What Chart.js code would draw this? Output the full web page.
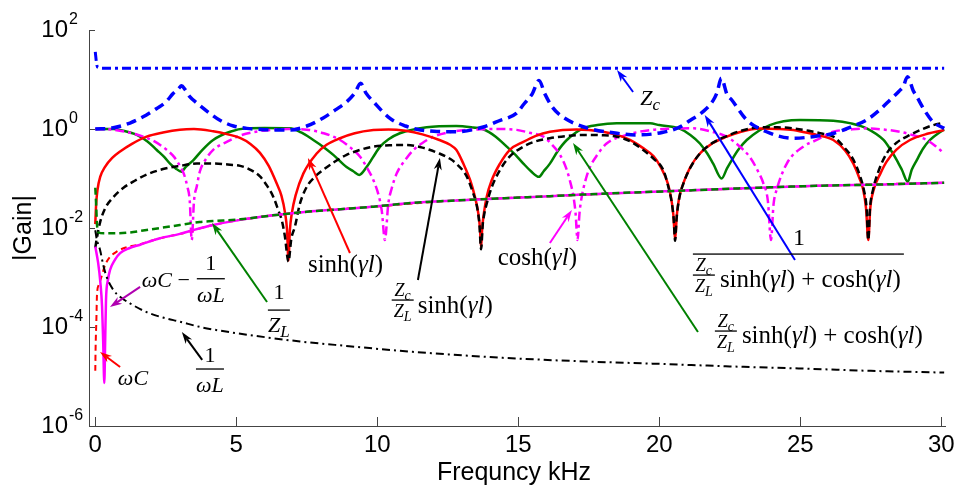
<!DOCTYPE html>
<html>
<head>
<meta charset="utf-8">
<script src="https://cdn.jsdelivr.net/npm/chart.js@4.4.0/dist/chart.umd.min.js"></script>
<style>
  html, body { margin: 0; padding: 0; background: #fff; }
</style>
</head>
<body>
<canvas id="gain" width="963" height="487"></canvas>
<script>
// frequency (kHz) / |gain| pairs for each transfer term
const zcPts = [[0, 36], [0.02, 28], [0.05, 20], [0.1, 17.5], [0.3, 16.8], [5, 16.8], [10, 16.8], [15, 16.8], [20, 16.8], [25, 16.8], [30.1, 16.8]];

const invPts = [[0, 1.0], [0.6, 1.05], [1.23, 1.32], [1.8, 1.9], [2.18, 2.6], [2.5, 3.5], [2.76, 5.2], [2.95, 6.5], [3.06, 7.5], [3.18, 6.3],
  [3.35, 4.5], [3.6, 3.35], [4.0, 2.2], [4.42, 1.5], [4.9, 1.15], [5.37, 1.03], [6.0, 0.97], [6.9, 0.95], [7.5, 1.15], [8.08, 1.67],
  [8.5, 2.4], [8.92, 3.57], [9.2, 5.3], [9.41, 8.4], [9.6, 5.3], [9.86, 3.57], [10.45, 1.64], [11.0, 1.15], [11.4, 0.99], [12.0, 0.9],
  [12.8, 0.88], [13.76, 1.1], [14.3, 1.45], [14.94, 2.1], [15.2, 3.2], [15.5, 5.2], [15.73, 9.5], [15.95, 5.0], [16.2, 2.8], [16.48, 1.92],
  [17.3, 1.11], [18.5, 0.82], [19.2, 0.76], [20.1, 0.85], [20.7, 1.08], [21.1, 1.5], [21.55, 2.24], [21.9, 3.7], [22.05, 5.5], [22.2, 10.6],
  [22.4, 5.0], [22.57, 3.85], [23.1, 1.52], [23.8, 0.88], [24.75, 0.65], [25.6, 0.72], [26.2, 0.82], [26.8, 1.1], [27.35, 1.52], [27.8, 2.4],
  [28.18, 3.85], [28.5, 5.8], [28.65, 7.2], [28.8, 11.4], [29.0, 6.0], [29.13, 4.5], [29.4, 2.4], [29.7, 1.4], [30.1, 1.03]];

const sinhPts = [[0, 0.012], [0.03, 0.03], [0.08, 0.06], [0.18, 0.11], [0.34, 0.17], [0.6, 0.26], [0.88, 0.35], [1.3, 0.5], [1.82, 0.7], [2.4, 0.85],
  [3.0, 0.97], [3.5, 1.0], [4.18, 0.9], [4.7, 0.78], [5.13, 0.66], [5.5, 0.5], [5.84, 0.33], [6.15, 0.18], [6.43, 0.08], [6.6, 0.045],
  [6.73, 0.02], [6.8, 0.009], [6.85, 0.0022], [6.9, 0.009], [6.97, 0.02], [7.1, 0.045], [7.38, 0.127], [7.85, 0.32], [8.2, 0.48], [8.68, 0.65],
  [9.2, 0.82], [9.86, 0.95], [10.4, 0.98], [11.0, 0.92], [11.6, 0.78], [12.2, 0.6], [12.58, 0.48], [12.8, 0.38], [13.05, 0.2], [13.3, 0.09],
  [13.46, 0.043], [13.58, 0.02], [13.64, 0.01], [13.68, 0.004], [13.72, 0.01], [13.78, 0.02], [13.88, 0.043], [14.05, 0.09], [14.35, 0.2], [14.7, 0.38],
  [15.18, 0.55], [15.6, 0.72], [16.12, 0.88], [17.07, 0.98], [18.0, 0.88], [18.5, 0.76], [18.96, 0.6], [19.4, 0.42], [19.8, 0.28], [20.05, 0.17],
  [20.3, 0.08], [20.42, 0.04], [20.5, 0.018], [20.56, 0.0057], [20.62, 0.018], [20.7, 0.04], [20.85, 0.08], [21.1, 0.17], [21.44, 0.32], [21.9, 0.52],
  [22.39, 0.7], [22.9, 0.88], [23.57, 1.02], [24.2, 1.0], [24.75, 0.95], [25.1, 0.87], [25.58, 0.76], [26.17, 0.6], [26.6, 0.36], [26.88, 0.2],
  [27.1, 0.1], [27.23, 0.059], [27.33, 0.025], [27.41, 0.0057], [27.48, 0.025], [27.6, 0.059], [27.85, 0.13], [28.06, 0.22], [28.4, 0.38], [28.89, 0.6],
  [29.5, 0.8], [30.1, 0.95]];

const zsPts = [[0, 0.004], [0.05, 0.006], [0.17, 0.013], [0.35, 0.025], [0.64, 0.042], [1.0, 0.065], [1.4, 0.09], [1.82, 0.12], [2.4, 0.155], [3.0, 0.18],
  [3.6, 0.2], [4.18, 0.2], [4.78, 0.19], [5.14, 0.18], [5.5, 0.15], [5.84, 0.11], [6.1, 0.07], [6.31, 0.043], [6.5, 0.022], [6.61, 0.0145],
  [6.72, 0.007], [6.85, 0.0021], [6.95, 0.006], [7.08, 0.0107], [7.25, 0.03], [7.5, 0.068], [7.8, 0.11], [8.08, 0.149], [8.5, 0.22], [8.91, 0.3],
  [9.4, 0.38], [9.86, 0.44], [10.5, 0.47], [11.04, 0.475], [11.6, 0.42], [12.2, 0.32], [12.58, 0.25], [12.8, 0.2], [13.17, 0.11], [13.4, 0.05],
  [13.52, 0.03], [13.62, 0.012], [13.68, 0.0037], [13.74, 0.012], [13.8, 0.02], [13.88, 0.031], [14.05, 0.065], [14.35, 0.149], [14.7, 0.28], [15.18, 0.44],
  [15.6, 0.56], [16.12, 0.65], [16.7, 0.72], [17.3, 0.76], [17.9, 0.75], [18.5, 0.7], [19.0, 0.55], [19.43, 0.376], [19.8, 0.25], [20.14, 0.149],
  [20.3, 0.075], [20.45, 0.03], [20.51, 0.015], [20.56, 0.0055], [20.61, 0.015], [20.7, 0.038], [20.85, 0.078], [21.1, 0.165], [21.44, 0.32], [21.9, 0.53],
  [22.39, 0.72], [22.9, 0.92], [23.57, 1.08], [24.2, 1.08], [24.75, 1.03], [25.3, 0.92], [25.8, 0.8], [26.17, 0.7], [26.6, 0.4], [26.88, 0.24],
  [27.1, 0.12], [27.25, 0.06], [27.35, 0.025], [27.41, 0.0057], [27.47, 0.025], [27.58, 0.06], [27.75, 0.13], [28.06, 0.32], [28.4, 0.52], [28.89, 0.76],
  [29.3, 0.98], [29.72, 1.2], [30.1, 1.34]];

const coshPts = [[0, 1.0], [0.6, 0.97], [1.2, 0.85], [1.7, 0.7], [2.1, 0.56], [2.53, 0.38], [2.8, 0.27], [3.0, 0.18], [3.15, 0.12], [3.26, 0.07],
  [3.35, 0.035], [3.42, 0.0057], [3.5, 0.035], [3.6, 0.07], [3.71, 0.14], [3.95, 0.26], [4.18, 0.38], [4.66, 0.55], [5.14, 0.74], [5.8, 0.9],
  [6.31, 0.97], [6.85, 1.0], [7.5, 0.97], [8.1, 0.82], [8.68, 0.6], [9.05, 0.42], [9.39, 0.275], [9.65, 0.16], [9.86, 0.093], [10.05, 0.045],
  [10.16, 0.022], [10.27, 0.0057], [10.39, 0.031], [10.5, 0.06], [10.69, 0.127], [11.0, 0.24], [11.28, 0.376], [11.6, 0.52], [11.99, 0.7], [12.6, 0.87],
  [13.2, 0.96], [13.76, 0.99], [14.3, 1.0], [14.94, 0.96], [15.4, 0.84], [15.89, 0.7], [16.2, 0.48], [16.48, 0.3], [16.7, 0.16], [16.83, 0.09],
  [16.95, 0.045], [17.03, 0.02], [17.1, 0.0057], [17.17, 0.02], [17.25, 0.043], [17.4, 0.1], [17.54, 0.17], [17.8, 0.3], [18.13, 0.51], [18.84, 0.76],
  [19.67, 0.95], [20.5, 1.02], [21.2, 1.03], [21.8, 0.9], [22.39, 0.7], [22.8, 0.47], [23.2, 0.275], [23.5, 0.14], [23.69, 0.08], [23.85, 0.035],
  [23.96, 0.0057], [24.05, 0.03], [24.16, 0.059], [24.52, 0.2], [25.1, 0.44], [25.58, 0.6], [26.17, 0.88], [26.8, 0.98], [27.35, 1.03], [27.9, 0.98],
  [28.53, 0.88], [29.0, 0.75], [29.48, 0.6], [29.8, 0.45], [30.1, 0.32]];

const sumPts = [[0, 1.0], [0.64, 1.0], [1.0, 0.92], [1.47, 0.76], [1.85, 0.56], [2.18, 0.376], [2.45, 0.27], [2.65, 0.2], [2.85, 0.16], [3.06, 0.137],
  [3.2, 0.17], [3.48, 0.236], [3.8, 0.38], [4.18, 0.6], [4.78, 0.88], [5.37, 1.03], [6.0, 1.05], [6.9, 1.03], [7.3, 0.85], [7.73, 0.6],
  [8.1, 0.43], [8.44, 0.3], [8.91, 0.17], [9.15, 0.14], [9.36, 0.118], [9.62, 0.17], [9.85, 0.27], [10.1, 0.44], [10.4, 0.62], [10.8, 0.82],
  [11.75, 1.08], [12.8, 1.15], [13.4, 1.07], [13.76, 0.99], [14.2, 0.7], [14.59, 0.44], [14.9, 0.3], [15.18, 0.2], [15.45, 0.14], [15.73, 0.108],
  [15.9, 0.14], [16.12, 0.2], [16.4, 0.36], [16.72, 0.6], [17.3, 1.03], [17.8, 1.2], [18.49, 1.3], [19.67, 1.3], [20.0, 1.2], [20.7, 1.03],
  [21.1, 0.76], [21.44, 0.51], [21.7, 0.32], [21.91, 0.2], [22.21, 0.1], [22.4, 0.16], [22.57, 0.236], [22.8, 0.38], [23.1, 0.6], [23.92, 1.2],
  [24.99, 1.52], [26.17, 1.47], [26.8, 1.3], [27.35, 1.03], [27.95, 0.6], [28.2, 0.38], [28.42, 0.236], [28.6, 0.15], [28.81, 0.086], [28.95, 0.15],
  [29.13, 0.236], [29.35, 0.4], [29.6, 0.6], [30.1, 0.99]];

const yLPts = [[0, 0.065], [0.03, 0.03], [0.06, 0.012], [0.1, 0.0082], [0.3, 0.0078], [0.64, 0.0078], [1.2, 0.0081], [1.82, 0.0091], [2.4, 0.0102], [3.0, 0.0115],
  [3.7, 0.0132], [4.18, 0.0138], [5.14, 0.015], [6.3, 0.018], [7.5, 0.0213], [8.7, 0.024], [9.86, 0.027], [11.2, 0.032], [12.8, 0.036], [14.5, 0.04],
  [16.12, 0.044], [18.2, 0.05], [20.2, 0.055], [22.8, 0.063], [25.58, 0.071], [28, 0.076], [30.1, 0.082]];

const bPts = [[0, 0.0042], [0.1, 0.002], [0.18, 0.0008], [0.24, 0.00026], [0.28, 0.00005], [0.32, 0.0000074], [0.35, 0.00005], [0.38, 0.00035], [0.45, 0.0009], [0.52, 0.0014],
  [0.7, 0.0023], [0.88, 0.0031], [1.2, 0.0039], [1.59, 0.0046], [2.29, 0.0062], [3.0, 0.0076], [3.48, 0.0091], [4.18, 0.0115], [5.14, 0.0146], [6.3, 0.018],
  [7.5, 0.0213], [8.7, 0.024], [9.86, 0.027], [11.2, 0.032], [12.8, 0.036], [14.5, 0.04], [16.12, 0.044], [18.2, 0.05], [20.2, 0.055], [22.8, 0.063],
  [25.58, 0.071], [28, 0.076], [30.1, 0.082]];

const wcPts = [[0, 0.000013], [0.01, 0.000035], [0.04, 0.00015], [0.06, 0.00045], [0.12, 0.0007], [0.22, 0.00104], [0.35, 0.0018], [0.52, 0.0026], [0.75, 0.0033], [1.0, 0.0039],
  [1.59, 0.0047], [2.29, 0.0062], [3.0, 0.0076], [4.18, 0.0115], [5.14, 0.0146], [6.3, 0.018], [7.5, 0.0213], [9.86, 0.027], [12.8, 0.036], [16.12, 0.044],
  [20.2, 0.055], [25.58, 0.071], [30.1, 0.082]];

const wlPts = [[0, 0.009], [0.05, 0.006], [0.17, 0.0036], [0.28, 0.0018], [0.4, 0.00104], [0.64, 0.00056], [0.9, 0.0004], [1.23, 0.0003], [1.82, 0.0002], [2.4, 0.000155],
  [3.0, 0.000128], [3.72, 0.0001], [4.18, 0.000089], [5.37, 0.00007], [7.26, 0.000051], [9, 0.000041], [10.8, 0.000033], [12.5, 0.000028], [14.35, 0.000024], [17, 0.0000205],
  [20, 0.000018], [22.5, 0.000016], [25, 0.0000145], [27.5, 0.000013], [30.1, 0.000012]];

const xTicks = [0, 5, 10, 15, 20, 25, 30];
const yTickExp = [2, 0, -2, -4, -6];

const serif = '"Liberation Serif", "Times New Roman", serif';
const sans = '"Liberation Sans", Arial, sans-serif';

function series(label, pts, color, width, dash) {
  return {
    label,
    data: pts.map(p => ({ x: p[0], y: p[1] })),
    borderColor: color,
    borderWidth: width,
    borderDash: dash || [],
    pointRadius: 0,
    fill: false,
    cubicInterpolationMode: 'monotone'
  };
}

// first entry is painted on top
const datasets = [
  series('Zc', zcPts, '#0000ff', 3, [9, 4, 3, 4]),
  series('1/(Zc/ZL sinh + cosh)', invPts, '#0000ff', 3.5, [10, 6]),
  series('1/wL', wlPts, '#000000', 2, [8, 4, 2, 4]),
  series('1/ZL', yLPts, '#008000', 2.5, [7, 4]),
  series('wC - 1/wL', bPts, '#ff00ff', 2.5),
  series('wC', wcPts, '#ff0000', 2, [6, 4]),
  series('Zc/ZL sinh', zsPts, '#000000', 2.5, [7, 4]),
  series('sinh', sinhPts, '#ff0000', 2.5),
  series('cosh', coshPts, '#ff00ff', 2.5, [9, 4, 3, 4]),
  series('Zc/ZL sinh + cosh', sumPts, '#008000', 2.5)
];

// annotation arrows, tail -> head in (kHz, gain)
const arrows = [
  { from: [19.07, 5.59], to: [18.5, 15.6], color: '#0000ff' },
  { from: [24.81, 0.00226], to: [21.61, 1.92], color: '#0000ff' },
  { from: [21.37, 0.000079], to: [16.94, 0.52], color: '#008000' },
  { from: [16.12, 0.00498], to: [16.9, 0.0231], color: '#ff00ff' },
  { from: [9.03, 0.00313], to: [7.54, 0.26], color: '#ff0000' },
  { from: [11.44, 0.00089], to: [12.22, 0.26], color: '#000000' },
  { from: [6.09, 0.00032], to: [4.14, 0.0126], color: '#008000' },
  { from: [1.59, 0.000645], to: [0.52, 0.000254], color: '#b000b0' },
  { from: [0.88, 0.0000156], to: [0.167, 0.0000313], color: '#ff0000' },
  { from: [3.79, 0.0000216], to: [3.07, 0.000079], color: '#000000' }
];

function runs(ctx, parts, x, y, size, center) {
  let w = 0;
  parts.forEach(([t, it]) => {
    ctx.font = (it ? 'italic ' : '') + size + 'px ' + serif;
    w += ctx.measureText(t).width;
  });
  let cx = center ? x - w / 2 : x;
  parts.forEach(([t, it]) => {
    ctx.font = (it ? 'italic ' : '') + size + 'px ' + serif;
    ctx.fillText(t, cx, y);
    cx += ctx.measureText(t).width;
  });
  return w;
}

// italic Z with an italic subscript
function zSub(ctx, sub, x, y, size, center) {
  const ss = Math.round(size * 0.78);
  ctx.font = 'italic ' + size + 'px ' + serif;
  const wz = ctx.measureText('Z').width;
  ctx.font = 'italic ' + ss + 'px ' + serif;
  const ws = ctx.measureText(sub).width;
  const x0 = center ? x - (wz + ws) / 2 : x;
  ctx.font = 'italic ' + size + 'px ' + serif;
  ctx.fillText('Z', x0, y);
  ctx.font = 'italic ' + ss + 'px ' + serif;
  ctx.fillText(sub, x0 + wz, y + size * 0.24);
}

function bar(ctx, x0, x1, y) {
  ctx.fillRect(x0, y - 0.6, x1 - x0, 1.3);
}

function arrow(ctx, x0, y0, x1, y1, color) {
  const a = Math.atan2(y1 - y0, x1 - x0), c = Math.cos(a), s = Math.sin(a);
  const L = 12, W = 4;
  ctx.strokeStyle = color;
  ctx.fillStyle = color;
  ctx.lineWidth = 2;
  ctx.beginPath();
  ctx.moveTo(x0, y0);
  ctx.lineTo(x1 - L * 0.7 * c, y1 - L * 0.7 * s);
  ctx.stroke();
  ctx.beginPath();
  ctx.moveTo(x1, y1);
  ctx.lineTo(x1 - L * c + W * s, y1 - L * s - W * c);
  ctx.lineTo(x1 - L * 0.7 * c, y1 - L * 0.7 * s);
  ctx.lineTo(x1 - L * c - W * s, y1 - L * s + W * c);
  ctx.closePath();
  ctx.fill();
}

const sinhT = [['sinh(', 0], ['γl', 1], [')', 0]];
const coshT = [['cosh(', 0], ['γl', 1], [')', 0]];
const sumT = [['sinh(', 0], ['γl', 1], [') + cosh(', 0], ['γl', 1], [')', 0]];

// small Zc/ZL fraction with its bar at y
function zRatio(ctx, x, y) {
  zSub(ctx, 'c', x + 11, y - 4, 18, true);
  bar(ctx, x, x + 22, y);
  zSub(ctx, 'L', x + 11, y + 17, 18, true);
}

const decor = {
  id: 'decor',
  afterDatasetsDraw(chart) {
    const { ctx, chartArea: area, scales: { x, y } } = chart;
    const P = (f, g) => [x.getPixelForValue(f), y.getPixelForValue(g)];
    ctx.save();

    // inward ticks
    ctx.strokeStyle = '#444';
    ctx.lineWidth = 1;
    ctx.beginPath();
    xTicks.forEach(v => {
      const px = Math.round(x.getPixelForValue(v)) + 0.5;
      ctx.moveTo(px, area.bottom);
      ctx.lineTo(px, area.bottom - 9);
    });
    yTickExp.forEach(e => {
      const py = Math.round(y.getPixelForValue(Math.pow(10, e))) + 0.5;
      ctx.moveTo(area.left, py);
      ctx.lineTo(area.left + 6, py);
    });
    ctx.stroke();

    // tick labels
    ctx.fillStyle = '#000';
    ctx.textBaseline = 'middle';
    ctx.textAlign = 'center';
    ctx.font = '24px ' + sans;
    xTicks.forEach(v => ctx.fillText(String(v), x.getPixelForValue(v), area.bottom + 19));
    yTickExp.forEach(e => {
      const py = y.getPixelForValue(Math.pow(10, e));
      ctx.textAlign = 'right';
      ctx.textBaseline = 'middle';
      ctx.font = '24px ' + sans;
      ctx.fillText('10', 68, py);
      ctx.textAlign = 'left';
      ctx.textBaseline = 'alphabetic';
      ctx.font = '16px ' + sans;
      ctx.fillText(String(e), 69, py - 6);
    });

    // axis titles
    ctx.textAlign = 'center';
    ctx.textBaseline = 'alphabetic';
    ctx.font = '25px ' + sans;
    ctx.fillText('Frequncy kHz', 514, 480);
    ctx.save();
    ctx.translate(24, (area.top + area.bottom) / 2);
    ctx.rotate(-Math.PI / 2);
    ctx.textBaseline = 'middle';
    ctx.fillText('|Gain|', 0, 0);
    ctx.restore();

    // arrows
    arrows.forEach(a => {
      const [x0, y0] = P(a.from[0], a.from[1]);
      const [x1, y1] = P(a.to[0], a.to[1]);
      arrow(ctx, x0, y0, x1, y1, a.color);
    });

    // math labels
    ctx.fillStyle = '#000';
    ctx.textAlign = 'left';
    ctx.textBaseline = 'alphabetic';
    let ax, ay;

    [ax, ay] = P(19.32, 3.05);
    zSub(ctx, 'c', ax, ay, 22, false);

    [ax, ay] = P(21.19, 0.00298);
    bar(ctx, ax, ax + 211, ay);
    runs(ctx, [['1', 0]], ax + 106, ay - 9, 24, true);
    zRatio(ctx, ax, ay + 21);
    runs(ctx, sumT, ax + 27, ay + 33, 25, false);

    [ax, ay] = P(21.97, 0.000083);
    zRatio(ctx, ax, ay);
    runs(ctx, sumT, ax + 27, ay + 12, 25, false);

    [ax, ay] = P(14.27, 0.00179);
    runs(ctx, coshT, ax, ay, 25, false);

    [ax, ay] = P(7.54, 0.00129);
    runs(ctx, sinhT, ax, ay, 25, false);

    [ax, ay] = P(10.51, 0.000351);
    zRatio(ctx, ax, ay);
    runs(ctx, sinhT, ax + 26, ay + 13, 25, false);

    [ax, ay] = P(6.12, 0.00022);
    runs(ctx, [['1', 0]], ax + 11, ay - 11, 22, true);
    bar(ctx, ax, ax + 22, ay);
    zSub(ctx, 'L', ax + 11, ay + 22, 22, true);

    [ax, ay] = P(1.65, 0.000652);
    runs(ctx, [['ωC', 1], [' − ', 0]], ax, ay, 22, false);
    runs(ctx, [['1', 0]], ax + 69, ay - 17, 22, true);
    bar(ctx, ax + 55, ax + 83, ay - 8);
    runs(ctx, [['ωL', 1]], ax + 69, ay + 15, 22, true);

    [ax, ay] = P(0.8, 0.0000067);
    runs(ctx, [['ωC', 1]], ax, ay, 22, false);

    [ax, ay] = P(3.57, 0.0000142);
    runs(ctx, [['1', 0]], ax + 14, ay - 7, 22, true);
    bar(ctx, ax, ax + 28, ay);
    runs(ctx, [['ωL', 1]], ax + 14, ay + 23, 22, true);

    ctx.restore();
  }
};

new Chart(document.getElementById('gain'), {
  type: 'line',
  data: { datasets },
  options: {
    responsive: false,
    animation: false,
    layout: { padding: { left: 0, right: 18, top: 30, bottom: 0 } },
    plugins: { legend: { display: false }, tooltip: { enabled: false } },
    scales: {
      x: {
        type: 'linear', min: -0.223, max: 30.13,
        grid: { display: false },
        border: { display: true, color: '#444', width: 1 },
        ticks: { display: false },
        afterFit: s => { s.height = 61; }
      },
      y: {
        type: 'logarithmic', min: 1e-6, max: 100,
        grid: { display: false },
        border: { display: true, color: '#444', width: 1 },
        ticks: { display: false },
        afterFit: s => { s.width = 89; }
      }
    }
  },
  plugins: [decor]
});
</script>
</body>
</html>
